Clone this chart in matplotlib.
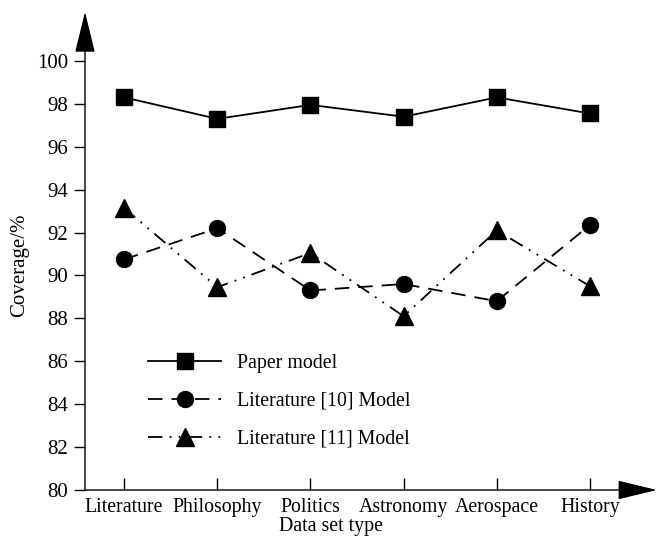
import matplotlib
matplotlib.use('Agg')
import matplotlib.pyplot as plt
import numpy as np

plt.rcParams['font.family'] = ['Liberation Serif', 'DejaVu Serif']
plt.rcParams['font.size'] = 14.3

categories = ['Literature', 'Philosophy', 'Politics', 'Astronomy', 'Aerospace', 'History']
paper_model = [98.3, 97.3, 97.95, 97.4, 98.3, 97.55]
lit10_model = [90.75, 92.2, 89.3, 89.6, 88.8, 92.35]
lit11_model = [93.15, 89.45, 91.05, 88.1, 92.1, 89.5]
yticks = np.arange(80, 101, 2)

x = np.arange(len(categories))

fig = plt.figure(figsize=(6.57, 5.37), dpi=100)
ax = fig.add_axes([85 / 657, 47 / 537, 572 / 657, 478 / 537])

ax.plot(x, paper_model, color='black', lw=1.3, marker='s', ms=11,
        label='Paper model')
ax.plot(x, lit10_model, color='black', lw=1.3, marker='o', ms=11.5,
        linestyle=(0, (8, 5)), label='Literature [10] Model')
ax.plot(x, lit11_model, color='black', lw=1.3, marker='^', ms=13,
        linestyle=(0, (8, 4, 1, 4, 1, 4)), label='Literature [11] Model')

ax.set_xlim(-0.42, 5.72)
ax.set_ylim(80, 102.28)
for s in ax.spines.values():
    s.set_visible(False)

# axis lines with arrow heads
ax.annotate('', xy=(0, 1), xytext=(0, 0), xycoords='axes fraction',
            arrowprops=dict(arrowstyle='-|>,head_length=1.3,head_width=0.32',
                            color='black', lw=1.0, shrinkA=0, shrinkB=0,
                            mutation_scale=20),
            annotation_clip=False)
ax.annotate('', xy=(1, 0), xytext=(0, 0), xycoords='axes fraction',
            arrowprops=dict(arrowstyle='-|>,head_length=1.25,head_width=0.3',
                            color='black', lw=1.0, shrinkA=0, shrinkB=0,
                            mutation_scale=20),
            annotation_clip=False)

ax.set_yticks(yticks)
ax.set_xticks(x)
ax.set_xticklabels(categories)
ax.tick_params(axis='y', direction='out', length=8, width=1, pad=4, labelsize=15)
ax.tick_params(axis='x', direction='in', length=9, width=1, pad=6)

ax.set_ylabel('Coverage/%', fontsize=15)
ax.yaxis.set_label_coords(-0.098, 0.47)
ax.set_xlabel('Data set type', fontsize=14.3, labelpad=0)
ax.xaxis.set_label_coords(0.43, -0.056)

ax.legend(loc='upper left', bbox_to_anchor=(138 / 657, 1 - 344 / 537),
          bbox_transform=fig.transFigure, frameon=False, borderpad=0,
          handlelength=3.7, handletextpad=0.8, labelspacing=0.95, fontsize=14.3)

fig.savefig('out.png', dpi=100)
